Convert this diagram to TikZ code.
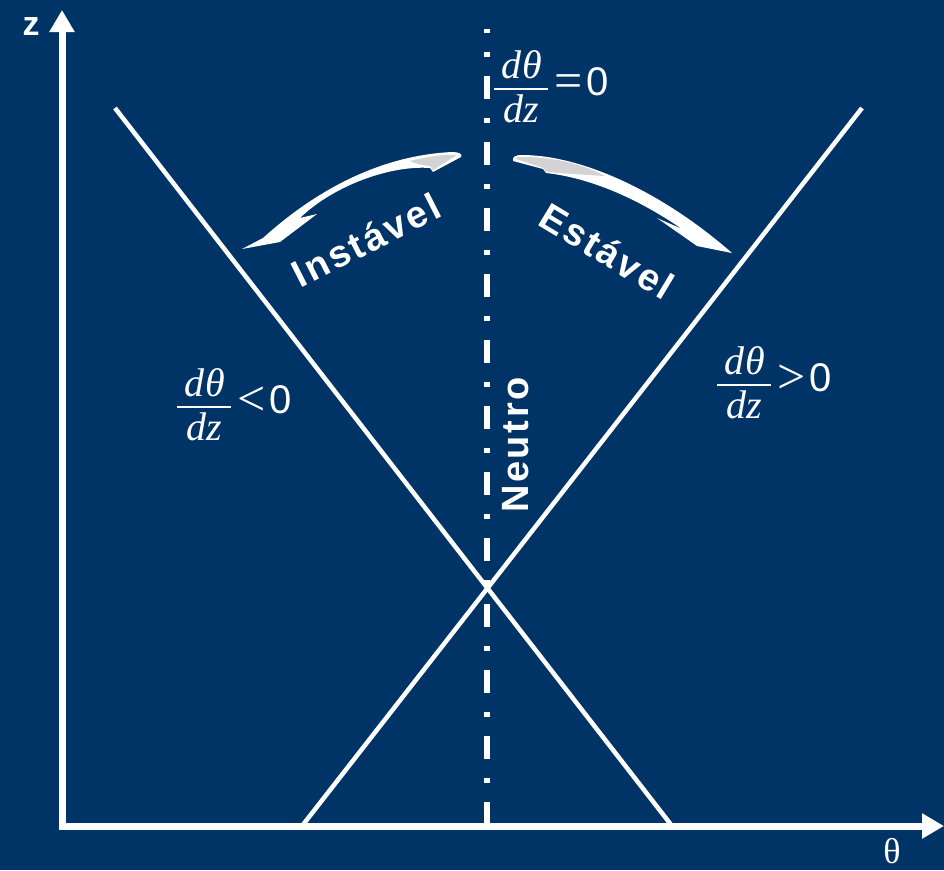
\documentclass[tikz,border=0pt]{standalone}
\usepackage{amsmath}
\usepackage{fontspec}
\setmainfont{Liberation Sans}
\newfontfamily\serifgrega{Liberation Serif}
\usetikzlibrary{arrows.meta}
\definecolor{fundo}{RGB}{0,51,102}
\definecolor{cauda}{RGB}{211,211,211}
\newcommand{\derivada}{\genfrac{}{}{1.6pt}{0}{\text{\serifgrega\itshape\,d\kern1ptθ\,}}{\text{\serifgrega\itshape dz}}}
\newcommand{\relacao}[1]{\kern5pt\raisebox{-2pt}{\serifgrega\fontsize{50}{54}\selectfont#1}\kern4pt}
\tikzset{
  eixo/.style    = {line width=7pt, white, -{Triangle[length=22pt,width=24pt]}},
  reta/.style    = {line width=4.5pt, white},
  neutro/.style  = {line width=5.5pt, white, dash pattern=on 23pt off 19pt on 5pt off 19pt, dash phase=19pt},
  rotulo/.style  = {text=white, inner sep=0pt,
                    font=\fontsize{38}{42}\selectfont\bfseries\addfontfeature{LetterSpace=7}},
  formula/.style = {text=white, inner sep=0pt, anchor=base west, font=\fontsize{40}{46}\selectfont},
  seta/.style    = {fill=white},
  grisalho/.style = {fill=cauda}
}

\begin{document}
\begin{tikzpicture}[x=1pt, y=-1pt]
    \fill[fundo] (0,0) rectangle (944,870);
    \useasboundingbox (0,0) rectangle (944,870);

    \coordinate (origem) at (62,826);
    \coordinate (ztopo) at (62,10);
    \coordinate (thetafim) at (944,826);
    \coordinate (esqtopo) at (115,108);
    \coordinate (esqbase) at (672,826);
    \coordinate (dirtopo) at (862,108);
    \coordinate (dirbase) at (302,826);
    \coordinate (ntopo) at (487,29);
    \coordinate (nbase) at (487,826);

    % linhas
    \draw[neutro] (ntopo) -- (nbase);
    \draw[reta] (esqtopo) -- (esqbase);
    \draw[reta] (dirtopo) -- (dirbase);
    \draw[eixo] ([yshift=-3.5pt]origem) -- (ztopo);
    \draw[eixo] ([xshift=-3.5pt]origem) -- (thetafim);

    \node[text=white, inner sep=0pt, font=\fontsize{34}{38}\selectfont\bfseries] (zrot) at (31,27) {z};
    \node[text=white, inner sep=0pt, font=\fontsize{36}{40}\selectfont\serifgrega] (thetarot) at (892,851) {θ};

    % setas curvas
    \fill[seta] (242,249) -- (263,238) .. controls (305,200) and (370,156) .. (452,152)
        .. controls (459,152) and (463,154) .. (461,157) -- (433,172) -- (430,168)
        .. controls (390,165) and (333,186) .. (300,218) -- (317,214) -- (280,242) -- cycle;
    \fill[grisalho] (410,161) .. controls (430,156) and (448,154) .. (457,155)
        -- (433,170) -- (430,166) .. controls (422,165) and (415,164) .. cycle;
    \fill[seta] (513,161) .. controls (512,157) and (515,155) .. (522,155)
        .. controls (580,155) and (660,190) .. (732,253) -- (697,246) -- (657,218) -- (682,229)
        .. controls (650,207) and (600,179) .. (546,173) -- (543,169) -- cycle;
    \fill[grisalho] (516,159) .. controls (516,157) and (518,157) .. (524,157)
        .. controls (555,157) and (585,165) .. (605,176)
        .. controls (585,175) and (560,173) .. (546,172) -- (543,168) -- cycle;

    \node[rotulo, rotate=27] (instavel) at (366,240) {Instável};
    \node[rotulo, rotate=-31] (estavel) at (607,251) {Estável};
    \node[rotulo, rotate=90] (neutrorot) at (516,445) {Neutro};

    \node[formula] (negativo) at (176,413) {$\derivada$\relacao{<}0};
    \node[formula] (positivo) at (716,391) {$\derivada$\relacao{>}0};
    \node[formula] (nulo) at (493,95) {$\derivada$\relacao{=}0};
\end{tikzpicture}
\end{document}
